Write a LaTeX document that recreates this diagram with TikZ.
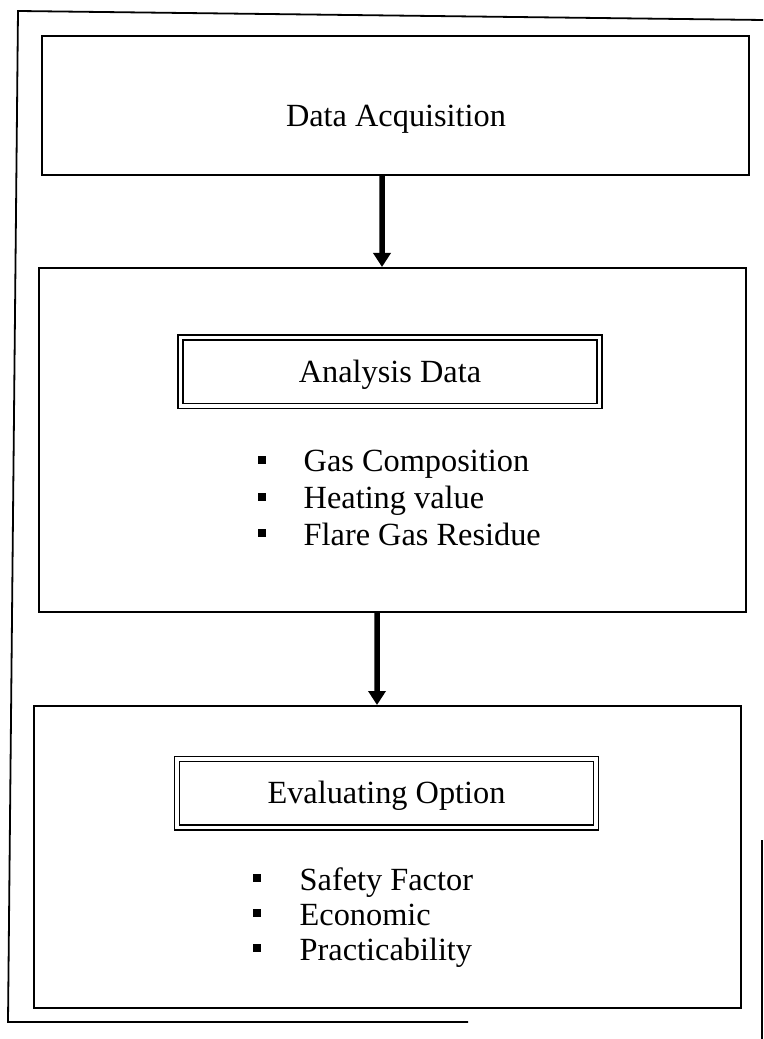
\documentclass[tikz,border=0pt]{standalone}
\usepackage{fontspec}
\setmainfont{Liberation Serif}
\usetikzlibrary{arrows.meta}

\begin{document}
\begin{tikzpicture}[x=0.1mm, y=-0.1mm,
    font=\fontsize{9.2}{11}\selectfont,
    stagebox/.style={draw, line width=0.2mm, minimum width=70.7mm},
    titlebox/.style={draw, line width=0.15mm, double, double distance=0.35mm,
      minimum width=41.9mm, minimum height=6.85mm, text height=2.1mm, text depth=0mm},
    flow/.style={line width=0.55mm, -{Triangle[length=1.4mm,width=1.7mm]}},
    sq/.style={fill, inner sep=0pt, minimum size=0.8mm},
    item/.style={inner sep=0pt, anchor=base west}]
    \useasboundingbox (0,0) rectangle (763,1039);
    % frame of the page
    \draw[line width=0.18mm] (763,20) -- (18,11) -- (8,1022) -- (468,1022);
    \draw[line width=0.2mm] (762,840) -- (762,1039);

    \node[stagebox, minimum height=13.9mm] (acq) at (395,105.5) {};
    \node[inner sep=0pt, anchor=base] (acqtext) at (396,127) {Data Acquisition};

    \node[stagebox, minimum height=34.4mm] (ana) at (392.5,440) {};
    \node[titlebox] (anatitle) at (390,372) {Analysis Data};
    \foreach \txt [count=\i, evaluate=\i as \yb using 435.5+\i*36.5]
      in {Gas Composition, Heating value, Flare Gas Residue} {
      \node[sq] (anabul\i) at (262,\yb-12) {};
      \node[item] (anaitem\i) at (303,\yb) {\txt};
    }

    \node[stagebox, minimum height=30.2mm] (eva) at (387.5,857) {};
    \node[titlebox] (evatitle) at (386.5,793) {Evaluating Option};
    \foreach \txt [count=\i, evaluate=\i as \yb using 855+\i*35]
      in {Safety Factor, Economic, Practicability} {
      \node[sq] (evabul\i) at (257,\yb-12) {};
      \node[item] (evaitem\i) at (299,\yb) {\txt};
    }

    \draw[flow] ([xshift=-1.3mm]acq.south) -- ([xshift=-1.05mm]ana.north);
    \draw[flow] ([xshift=-1.55mm]ana.south) -- ([xshift=-1.05mm]eva.north);
\end{tikzpicture}
\end{document}
